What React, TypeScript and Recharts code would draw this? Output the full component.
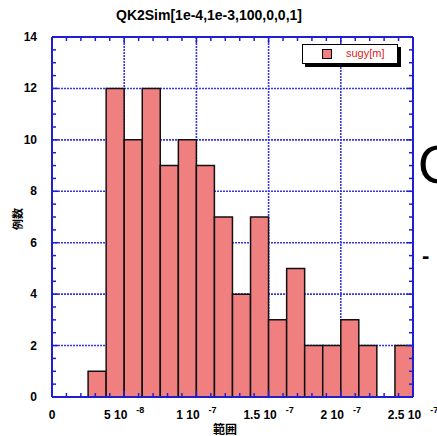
import React from 'react';
import {
  BarChart,
  Bar,
  XAxis,
  YAxis,
  CartesianGrid,
  Legend,
} from 'recharts';

// histogram bins: lower edge in units of 1e-8 m, and counts per bin
const binStarts = [
  0, 1.25, 2.5, 3.75, 5, 6.25, 7.5, 8.75, 10, 11.25,
  12.5, 13.75, 15, 16.25, 17.5, 18.75, 20, 21.25, 22.5, 23.75,
];
const counts = [0, 0, 1, 12, 10, 12, 9, 10, 9, 7, 4, 7, 3, 5, 2, 2, 3, 2, 0, 2];

// x axis in units of 1e-8
const xMajorTicks = [0, 5, 10, 15, 20, 25];
const xTickMantissa = ['0', '5 10', '1 10', '1.5 10', '2 10', '2.5 10'];
const xTickExp = ['', '-8', '-7', '-7', '-7', '-7'];
const yMajorTicks = [0, 2, 4, 6, 8, 10, 12, 14];
const yGridValues = [2, 4, 6, 8, 10, 12];

const seriesName = 'sugy[m]';
const title = 'QK2Sim[1e-4,1e-3,100,0,0,1]';

const data = binStarts.map((b, i) => ({ bin: b, value: counts[i] }));

// minor ticks: every 1e-8 on x, every 0.5 on y
const xMinorTicks = Array.from({ length: 26 }, (_, i) => i);
const yMinorTicks = Array.from({ length: 29 }, (_, i) => i / 2);

const AXIS_BLUE = '#1f1fd0';
const GRID_BLUE = '#3838e0';
const BAR_FILL = '#f08080';
const FONT = 'Arial, "Liberation Sans", Helvetica, sans-serif';

const BottomTick = (props: any) => {
  const { x, y, payload } = props;
  const idx = xMajorTicks.indexOf(payload.value);
  return (
    <g>
      <line x1={x} y1={y} x2={x} y2={y - (idx >= 0 ? 6 : 4)} stroke={AXIS_BLUE} strokeWidth={1.5} />
      {idx >= 0 && (
        <text x={x} y={y + 22} textAnchor="middle" fontFamily={FONT} fontWeight="bold" fontSize={12} fill="#000">
          <tspan>{xTickMantissa[idx]}</tspan>
          {xTickExp[idx] && (
            <tspan dx={9} dy={-6} fontSize={9}>
              {xTickExp[idx]}
            </tspan>
          )}
        </text>
      )}
    </g>
  );
};

const TopTick = (props: any) => {
  const { x, y, payload } = props;
  const major = xMajorTicks.includes(payload.value);
  return <line x1={x} y1={y} x2={x} y2={y + (major ? 6 : 4)} stroke={AXIS_BLUE} strokeWidth={1.5} />;
};

const LeftTick = (props: any) => {
  const { x, y, payload } = props;
  const v = payload.value;
  const major = yMajorTicks.includes(v);
  return (
    <g>
      <line x1={x} y1={y} x2={x + (major ? 6 : 4)} y2={y} stroke={AXIS_BLUE} strokeWidth={1.5} />
      {major && (
        <text x={x - 15} y={y + 4} textAnchor="end" fontFamily={FONT} fontWeight="bold" fontSize={12} fill="#000">
          {v}
        </text>
      )}
    </g>
  );
};

const RightTick = (props: any) => {
  const { x, y, payload } = props;
  const major = yMajorTicks.includes(payload.value);
  return <line x1={x} y1={y} x2={x - (major ? 6 : 4)} y2={y} stroke={AXIS_BLUE} strokeWidth={1.5} />;
};

const LegendBox = () => (
  <div
    style={{
      width: 94,
      height: 18,
      border: '1px solid #000',
      background: '#fff',
      boxShadow: '3px 3px 0 #000',
      position: 'relative',
      fontFamily: FONT,
    }}
  >
    <div
      style={{
        position: 'absolute',
        left: 19,
        top: 4,
        width: 8,
        height: 8,
        background: BAR_FILL,
        border: '1px solid #000',
      }}
    />
    <div style={{ position: 'absolute', left: 43, top: 2, fontSize: 11, color: '#e02020', lineHeight: '13px' }}>
      {seriesName}
    </div>
  </div>
);

export default function App() {
  return (
    <div style={{ position: 'absolute', left: 0, top: 0, width: 437, height: 436, overflow: 'hidden', background: '#fff' }}>
      <div
        style={{
          position: 'absolute',
          left: 0,
          top: 6,
          width: 418,
          textAlign: 'center',
          fontFamily: FONT,
          fontWeight: 'bold',
          fontSize: 14,
          lineHeight: '18px',
        }}
      >
        {title}
      </div>
      <BarChart
        width={437}
        height={436}
        data={data}
        barCategoryGap={0}
        margin={{ top: 36, right: 0, bottom: 0, left: 0 }}
      >
        <XAxis
          xAxisId="num"
          dataKey="bin"
          type="number"
          domain={[0, 25]}
          allowDataOverflow
          ticks={xMinorTicks}
          interval={0}
          height={39}
          tickSize={0}
          tickMargin={0}
          tickLine={false}
          tick={<BottomTick />}
          axisLine={{ stroke: AXIS_BLUE, strokeWidth: 2 }}
        />
        <XAxis xAxisId="cat" dataKey="bin" hide height={0} />
        <XAxis
          xAxisId="top"
          orientation="top"
          dataKey="bin"
          type="number"
          domain={[0, 25]}
          allowDataOverflow
          ticks={xMinorTicks}
          interval={0}
          height={1}
          tickSize={0}
          tickMargin={0}
          tickLine={false}
          tick={<TopTick />}
          axisLine={{ stroke: AXIS_BLUE, strokeWidth: 2 }}
        />
        <YAxis
          yAxisId="left"
          type="number"
          domain={[0, 14]}
          allowDataOverflow
          ticks={yMinorTicks}
          interval={0}
          width={52}
          tickSize={0}
          tickMargin={0}
          tickLine={false}
          tick={<LeftTick />}
          axisLine={{ stroke: AXIS_BLUE, strokeWidth: 2 }}
        />
        <YAxis
          yAxisId="right"
          orientation="right"
          type="number"
          domain={[0, 14]}
          allowDataOverflow
          ticks={yMinorTicks}
          interval={0}
          width={24}
          tickSize={0}
          tickMargin={0}
          tickLine={false}
          tick={<RightTick />}
          axisLine={{ stroke: AXIS_BLUE, strokeWidth: 2 }}
        />
        <CartesianGrid
          xAxisId="num"
          yAxisId="left"
          verticalValues={xMajorTicks}
          horizontalValues={yGridValues}
          stroke={GRID_BLUE}
          strokeWidth={1.6}
          strokeDasharray="2 1"
        />
        <Bar
          xAxisId="cat"
          yAxisId="left"
          dataKey="value"
          name={seriesName}
          fill={BAR_FILL}
          stroke="#111"
          strokeWidth={1.5}
          isAnimationActive={false}
        />
        <Legend
          layout="horizontal"
          align="center"
          verticalAlign="middle"
          content={<LegendBox />}
          wrapperStyle={{ left: 302, top: 44, width: 'auto' }}
        />
      </BarChart>
      <div
        style={{
          position: 'absolute',
          left: 0,
          top: 422,
          width: 450,
          textAlign: 'center',
          fontFamily: '"Noto Sans CJK JP", sans-serif',
          fontWeight: 'bold',
          fontSize: 12,
          lineHeight: '14px',
        }}
      >
        範囲
      </div>
      <div
        style={{
          position: 'absolute',
          left: 17,
          top: 219,
          transform: 'translate(-50%, -50%) rotate(-90deg)',
          fontFamily: '"Noto Sans CJK JP", sans-serif',
          fontWeight: 'bold',
          fontSize: 11,
          lineHeight: '12px',
          whiteSpace: 'nowrap',
        }}
      >
        例数
      </div>
      <div style={{ position: 'absolute', left: 418, top: 134, fontFamily: FONT, fontSize: 54, lineHeight: '60px' }}>O</div>
      <div style={{ position: 'absolute', left: 422, top: 244, fontFamily: FONT, fontWeight: 'bold', fontSize: 22, lineHeight: '24px' }}>
        -
      </div>
    </div>
  );
}
